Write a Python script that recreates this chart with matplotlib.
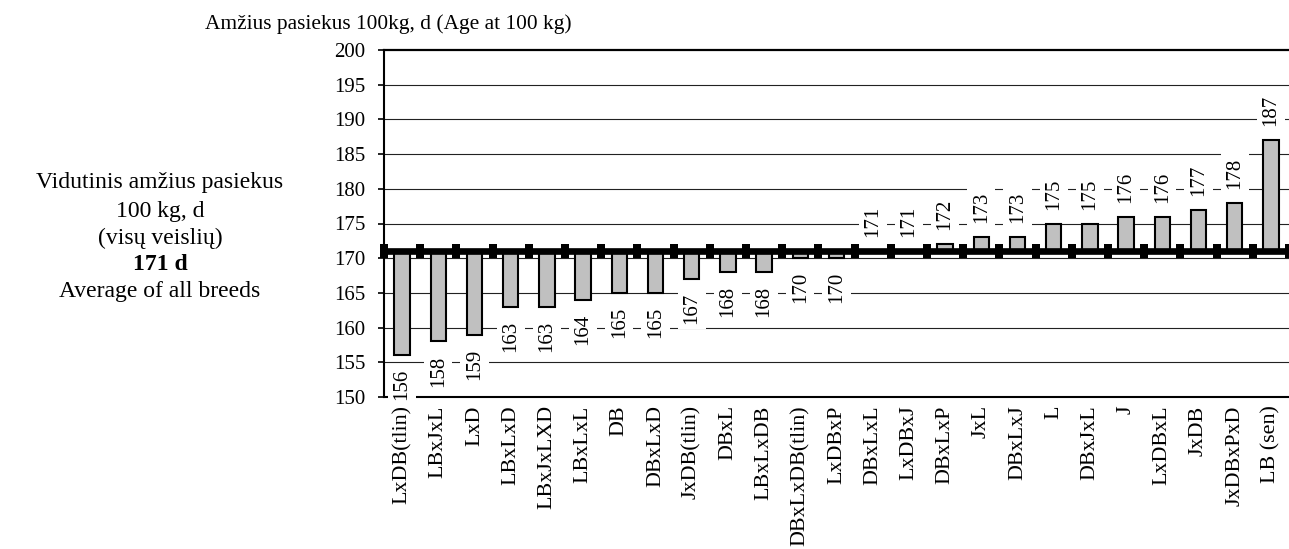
import numpy as np
from matplotlib import pyplot as plt

plt.rcParams['font.family'] = ['Liberation Serif', 'DejaVu Serif']

breeds = ["LxDB(tlin)", "LBxJxL", "LxD", "LBxLxD", "LBxJxLXD", "LBxLxL", "DB",
          "DBxLxD", "JxDB(tlin)", "DBxL", "LBxLxDB", "DBxLxDB(tlin)", "LxDBxP",
          "DBxLxL", "LxDBxJ", "DBxLxP", "JxL", "DBxLxJ", "L", "DBxJxL", "J",
          "LxDBxL", "JxDB", "JxDBxPxD", "LB (sen)"]
age_days = [156, 158, 159, 163, 163, 164, 165, 165, 167, 168, 168, 170, 170,
            171, 171, 172, 173, 173, 175, 175, 176, 176, 177, 178, 187]
average = 171
y_ticks = [150, 155, 160, 165, 170, 175, 180, 185, 190, 195, 200]

fig = plt.figure(figsize=(12.89, 5.49), dpi=100)
ax = fig.add_axes([384 / 1289, 1 - 397 / 549, 905 / 1289, 347 / 549])

x = np.arange(len(breeds))
vals = np.array(age_days)

# gridlines
for t in y_ticks[1:-1]:
    ax.axhline(t, color='#222222', linewidth=0.8, zorder=0)

ax.bar(x, vals - average, bottom=average, width=0.42, color='#c0c0c0',
       edgecolor='black', linewidth=1.5, zorder=2)

# average line, markers sit between the categories
marker = [(-0.55, -1), (0.55, -1), (0.55, 1), (-0.55, 1)]
ax.plot(np.arange(-0.5, len(breeds)), [average] * (len(breeds) + 1),
        color='black', linewidth=4.8, marker=marker, markersize=9.5,
        markeredgewidth=0, zorder=4, clip_on=False)

# value labels
for xi, v in zip(x, vals):
    if v < average:
        off, va = -10, 'top'
    else:
        off, va = 10, 'bottom'
    ax.annotate(str(v), (xi, v), xytext=(0, off), textcoords='offset points',
                rotation=90, ha='center', va=va, fontsize=15, zorder=5,
                bbox=dict(boxstyle='square,pad=0.22', facecolor='white',
                          edgecolor='none'))

ax.set_xlim(-0.5, len(breeds) - 0.5)
ax.set_ylim(150, 200)
ax.set_yticks(y_ticks)
ax.set_xticks(x)
ax.set_xticklabels(breeds, rotation=90, va='top', ha='center')
ax.tick_params(axis='x', length=0, pad=6, labelsize=15.8)
ax.tick_params(axis='y', direction='out', length=4.5, width=1.2, pad=9,
               labelsize=15)

ax.spines['right'].set_visible(False)
ax.spines['top'].set_linewidth(1.6)
ax.spines['left'].set_linewidth(1.5)
ax.spines['bottom'].set_linewidth(1.5)

fig.text(388 / 1289, 1 - 24 / 549, "Amžius pasiekus 100kg, d (Age at 100 kg)",
         ha='center', va='center', fontsize=15.4)

ann = [("Vidutinis amžius pasiekus", 183, 'normal'),
       ("100 kg, d", 211, 'normal'),
       ("(visų veislių)", 238, 'normal'),
       ("171 d", 265, 'bold'),
       ("Average of all breeds", 292, 'normal')]
for txt, yy, w in ann:
    fig.text(160 / 1289, 1 - yy / 549, txt, ha='center', va='center',
             fontsize=17, fontweight=w)

fig.savefig('out.png', dpi=100)
